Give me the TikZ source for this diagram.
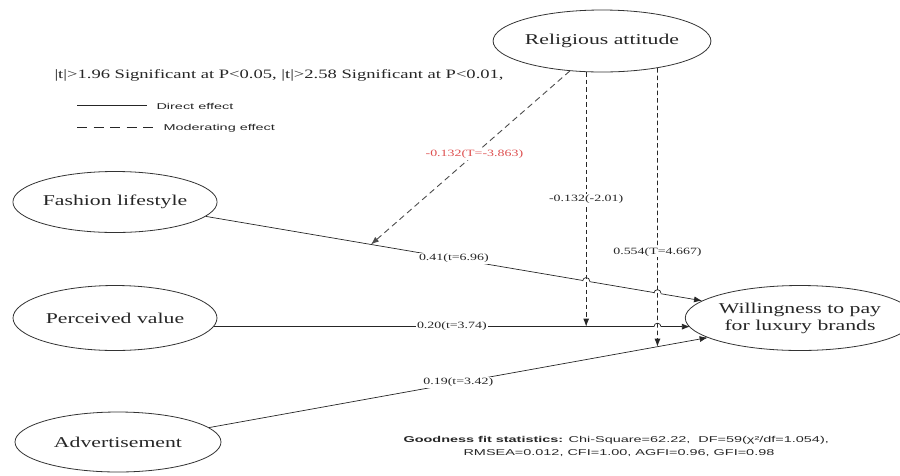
\documentclass[tikz,border=0pt]{standalone}
\usepackage{fontspec}
\setmainfont{Liberation Serif}
\newfontfamily\ellfont[FakeStretch=1.45]{Liberation Serif}
\newfontfamily\sansw[FakeStretch=1.7]{Liberation Sans}
\usetikzlibrary{shapes.geometric,arrows.meta,calc,intersections}
\definecolor{redlab}{RGB}{222,80,80}
\begin{document}
\begin{tikzpicture}[x=1pt,y=-1pt,
  latent/.style={ellipse,draw=black!80,line width=0.8pt,inner sep=0pt,
    font=\ellfont\fontsize{15}{17}\selectfont,align=center,text=black!85},
  direct/.style={draw=black!85,line width=0.7pt,-{Latex[length=8pt,width=6pt]}},
  moder/.style={draw=black!85,line width=0.9pt,dash pattern=on 4.5pt off 3pt,-{Latex[length=8pt,width=6pt]}},
  coef/.style={fill=white,inner sep=1pt,text=black!85,font=\ellfont\fontsize{9.6}{11}\selectfont},
  legtext/.style={anchor=west,text=black!85,font=\sansw\fontsize{8.5}{10}\selectfont},
  hop/.style={draw=black!85,line width=0.7pt}
]
\useasboundingbox (0,0) rectangle (900,475);

% latent variables
\node[latent,minimum width=205pt,minimum height=62pt] (rel) at (602,41) {Religious attitude};
\node[latent,minimum width=204pt,minimum height=61pt] (fash) at (115,202) {Fashion lifestyle};
\node[latent,minimum width=204pt,minimum height=65pt] (pv) at (115,318) {Perceived value};
\node[latent,minimum width=206pt,minimum height=60pt] (adv) at (118,442) {Advertisement};
\node[latent,minimum width=195pt,minimum height=65pt] (wtp) at (800,318) {Willingness to pay\\for luxury brands};

% anchor points
\coordinate (fs) at (fash.-9);
\coordinate (fe) at (wtp.170);
\coordinate (ps) at (pv.-5.6);
\coordinate (pe) at (wtp.185.6 |- ps);
\coordinate (as) at (adv.9);
\coordinate (ae) at (wtp.192);
\coordinate (v1t) at (rel.-117);
\coordinate (v2t) at (rel.-26.6);
\coordinate (dt) at (rel.-137.6);
\coordinate (m1) at ($(fs)!0.333!(fe)$);
\coordinate (v1b) at (v1t |- ps);

% paths for intersections
\path[name path=fl] (fs) -- (fe);
\path[name path=pl] (ps) -- (pe);
\path[name path=al] (as) -- (ae);
\path[name path=v1] (v1t) -- (v1b);
\path[name path=v2] (v2t) -- ++(0,400);
\path[name intersections={of=fl and v1,by=h1}];
\path[name intersections={of=fl and v2,by=h2}];
\path[name intersections={of=pl and v2,by=h3}];
\path[name intersections={of=al and v2,by=v2b}];

% direct effects
\draw[direct] (fs) -- node[coef]{0.41(t=6.96)} (fe);
\draw[direct] (ps) -- node[coef]{0.20(t=3.74)} (pe);
\draw[direct] (as) -- node[coef]{0.19(t=3.42)} (ae);

% line hops
\foreach \h in {h1,h2,h3}{
  \fill[white] (\h) circle[radius=3.5pt];
  \draw[hop] ($(\h)+(-3.5,0)$) arc[start angle=180,end angle=0,radius=3.5pt];
}

% moderating effects
\draw[moder,draw=black!70,dash pattern=on 6pt off 4pt] (dt) -- node[coef,text=redlab,pos=0.48]{-0.132(T=-3.863)} (m1);
\draw[moder] (v1t) -- node[coef,pos=0.5]{-0.132(-2.01)} (v1b);
\draw[moder] (v2t) -- node[coef,pos=0.66]{0.554(T=4.667)} (v2b);

% legend
\node[anchor=west,text=black!85,font=\ellfont\fontsize{12.8}{14}\selectfont] (sig) at (51,75)
  {|t|>1.96 Significant at P<0.05, |t|>2.58 Significant at P<0.01,};
\coordinate (l1a) at (77,105);
\coordinate (l1b) at (147,105);
\draw[draw=black!85,line width=0.7pt] (l1a) -- (l1b);
\node[legtext] (ldir) at (153,106) {Direct effect};
\coordinate (l2a) at (77,127);
\coordinate (l2b) at (153,127);
\draw[draw=black!85,line width=0.8pt,dash pattern=on 10pt off 6.5pt] (l2a) -- (l2b);
\node[legtext] (lmod) at (160,128) {Moderating effect};

% goodness of fit
\node[legtext] (gof1) at (400,440)
  {\textbf{Goodness fit statistics:} Chi-Square=62.22,~~DF=59(χ²/df=1.054),};
\node[legtext] (gof2) at (460,453) {RMSEA=0.012, CFI=1.00, AGFI=0.96, GFI=0.98};
\end{tikzpicture}
\end{document}
